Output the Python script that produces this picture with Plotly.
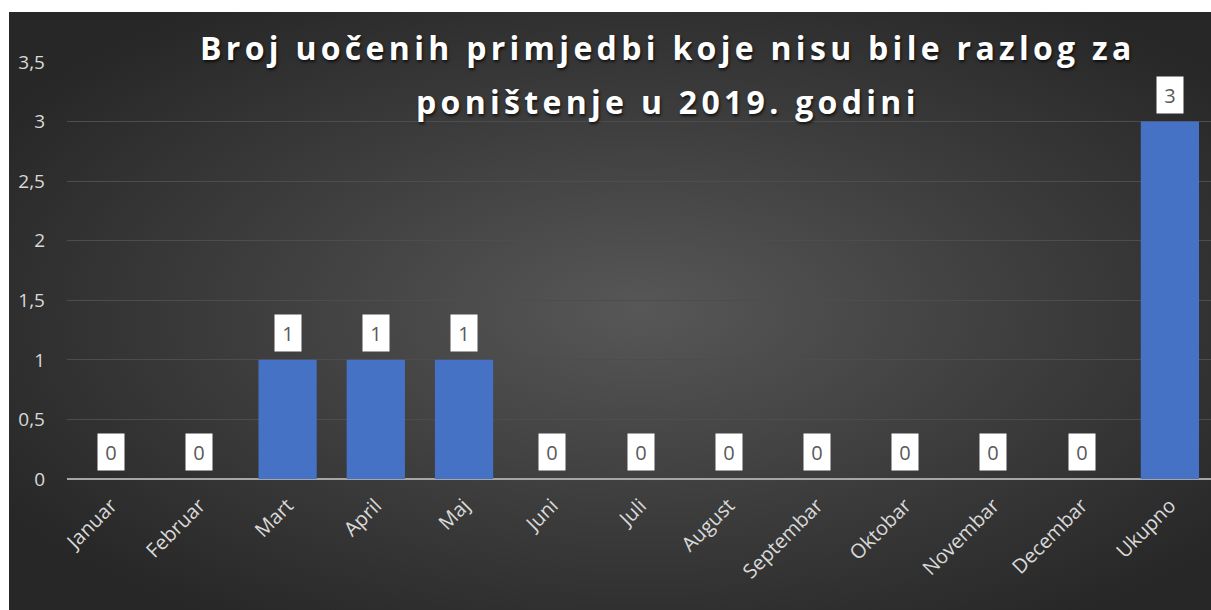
import base64
import plotly.graph_objects as go

title_lines = ["Broj uočenih primjedbi koje nisu bile razlog za", "poništenje u 2019. godini"]
categories = ["Januar", "Februar", "Mart", "April", "Maj", "Juni", "Juli", "August",
              "Septembar", "Oktobar", "Novembar", "Decembar", "Ukupno"]
values = [0, 0, 1, 1, 1, 0, 0, 0, 0, 0, 0, 0, 3]
y_ticks = [0, 0.5, 1, 1.5, 2, 2.5, 3, 3.5]

W, H = 1211, 610
ml, mr, mt, mb = 67, 0, 62, 131
pw, ph = W - ml - mr, H - mt - mb

svg = """<svg xmlns='http://www.w3.org/2000/svg' width='1202' height='598' preserveAspectRatio='none' viewBox='0 0 1202 598'>
<defs><radialGradient id='g' cx='0.52' cy='0.5' r='0.62' fx='0.52' fy='0.5'>
<stop offset='0' stop-color='#575757'/><stop offset='0.55' stop-color='#3c3c3c'/><stop offset='1' stop-color='#272727'/>
</radialGradient></defs><rect width='1202' height='598' fill='url(#g)'/></svg>"""
src = "data:image/svg+xml;base64," + base64.b64encode(svg.encode()).decode()

fig = go.Figure()
fig.add_trace(go.Bar(x=categories, y=values, width=0.66, hoverinfo="skip",
                     marker=dict(color="#4672c6", line=dict(width=0))))

x0 = (9 - ml) / pw
y_top = (H - mb - 12) / ph
y_bot = (H - mb - H) / ph
fig.add_layout_image(dict(source=src, xref="paper", yref="paper", x=x0, y=y_top,
                          sizex=1 - x0 + 0.01, sizey=y_top - y_bot, xanchor="left", yanchor="top",
                          sizing="stretch", layer="below"))

for c, v in zip(categories, values):
    fig.add_annotation(x=c, y=v, text=str(v), showarrow=False, yanchor="bottom", yshift=8,
                       bgcolor="white", width=18, height=28, borderpad=4,
                       font=dict(family="Open Sans", size=20, color="#595959"))

title_y = [47, 102]
for line, ty in zip(title_lines, title_y):
    fig.add_annotation(text=f'<span style="letter-spacing:4.3px">{line}</span>',
                       xref="paper", yref="paper", x=(668 - ml) / pw,
                       y=(H - mb - ty) / ph, showarrow=False, xanchor="center", yanchor="middle",
                       font=dict(family="Open Sans", size=32, color="white", weight="bold",
                                 shadow="1px 2px 3px rgba(0,0,0,0.7)"))

fig.update_layout(
    width=W, height=H, margin=dict(l=ml, r=mr, t=mt, b=mb),
    paper_bgcolor="white", plot_bgcolor="rgba(0,0,0,0)",
    separators=", ", showlegend=False, bargap=0.34,
    font=dict(family="Open Sans", color="#d9d9d9"),
)
fig.update_xaxes(range=[-0.5, 12.5 - 3 / 88], tickangle=-45, showgrid=False,
                 showline=False, ticks="", tickfont=dict(size=20, color="#d9d9d9"),
                 ticklabelstandoff=10, fixedrange=True)
fig.update_yaxes(range=[0, 3.5], tickvals=y_ticks, showgrid=True, gridcolor="#4d4d4d",
                 gridwidth=1, zeroline=True, zerolinecolor="#a6a6a6", zerolinewidth=2,
                 tickfont=dict(size=19, color="#d9d9d9"), ticklabelstandoff=21, fixedrange=True)

fig.write_html("out.html", config={"displayModeBar": False},
               post_script="document.body.style.margin='0';document.body.style.overflow='hidden';")
